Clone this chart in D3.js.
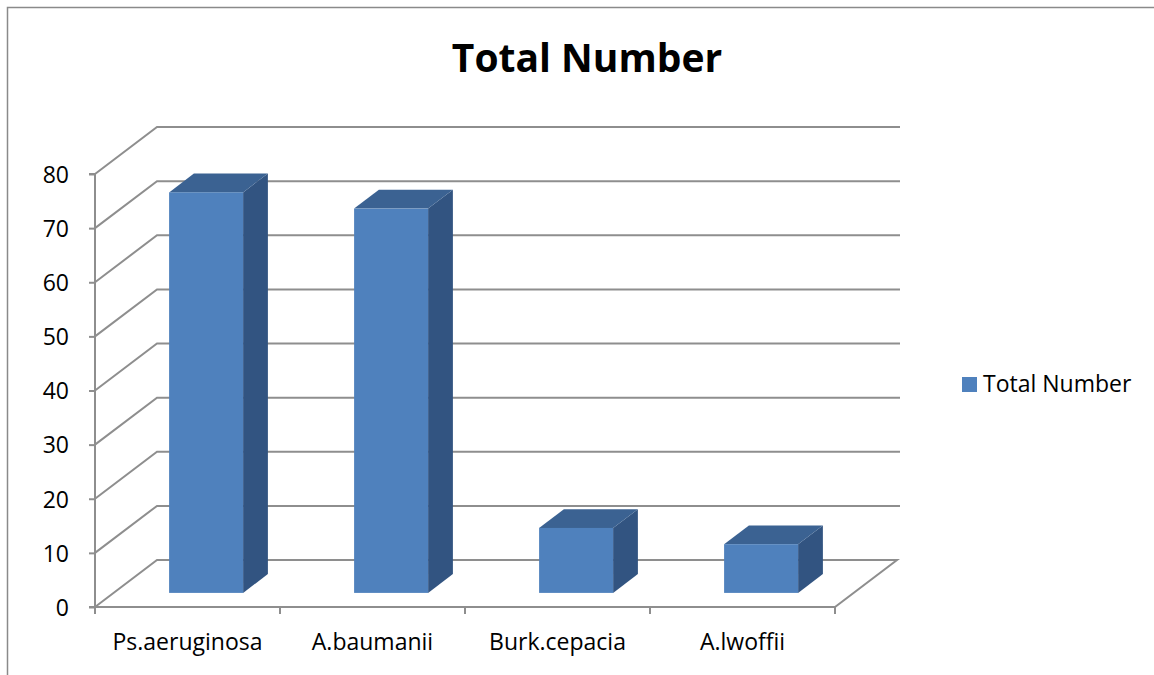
<!DOCTYPE html>
<html>
<head>
<meta charset="utf-8">
<script src="https://cdn.jsdelivr.net/npm/d3@7"></script>
<style>
  html, body { margin: 0; padding: 0; background: #fff; }
  svg { display: block; }
  text { font-family: "Open Sans", "Noto Sans", sans-serif; fill: #000; }
</style>
</head>
<body>
<svg id="chart" width="1154" height="675"></svg>
<script>
// ---- data ----
const categories = ["Ps.aeruginosa", "A.baumanii", "Burk.cepacia", "A.lwoffii"];
const values = [74, 71, 12, 9];
const seriesName = "Total Number";
const chartTitle = "Total Number";
const yTicks = [0, 10, 20, 30, 40, 50, 60, 70, 80];

// ---- layout ----
const svg = d3.select("#chart");
const W = 1154, H = 675;
const x0 = 95, x1 = 835;        // front floor edge
const yBottom = 607, yTop = 174; // front plane 0 and 80
const depthX = 62, depthY = -47; // 3D depth offset
const barFront = 0.30, barBack = 0.70; // bar depth fractions

const x = d3.scaleBand().domain(categories).range([x0, x1]).paddingInner(0.6).paddingOuter(0.3);
const y = d3.scaleLinear().domain([0, 80]).range([yBottom, yTop]);

const gridColor = "#8e8e8e";

// outer border (top and left only visible)
svg.append("path")
  .attr("d", `M7.5,${H} L7.5,7.5 L${W},7.5`)
  .attr("fill", "none").attr("stroke", "#8a8a8a").attr("stroke-width", 1.5);

// title
svg.append("text")
  .attr("x", 587).attr("y", 72)
  .attr("text-anchor", "middle")
  .style("font-size", "39px").style("font-weight", "bold")
  .text(chartTitle);

const g = svg.append("g");

// left wall + back wall gridlines
yTicks.forEach(t => {
  const yf = y(t);
  const pts = [[x0, yf], [x0 + depthX, yf + depthY], [x1 + depthX + 3, yf + depthY]];
  if (t === 0) {
    g.append("path")
      .attr("d", `M${x0},${yf} L${x0 + depthX},${yf + depthY} L${x1 + depthX},${yf + depthY} L${x1},${yf} Z`)
      .attr("fill", "none").attr("stroke", gridColor).attr("stroke-width", 2);
  } else {
    g.append("path")
      .attr("d", d3.line()(pts))
      .attr("fill", "none").attr("stroke", gridColor).attr("stroke-width", 2);
  }
});

// y axis
const yAxis = d3.axisLeft(y).tickValues(yTicks).tickSize(6).tickPadding(20);
const ya = g.append("g").attr("transform", `translate(${x0},0)`).call(yAxis);
ya.select(".domain").attr("stroke", gridColor).attr("stroke-width", 2).attr("d", `M-6,${yTop}H0V${yBottom}H-6`);
ya.selectAll(".tick line").attr("stroke", gridColor).attr("stroke-width", 2);
ya.selectAll(".tick text").style("font-size", "23px").style("font-family", "Open Sans, sans-serif").attr("fill", "#000").attr("dy", "0.36em");

// x axis ticks (category boundaries)
const boundaries = categories.map((c, i) => x0 + i * x.step()).concat([x1]);
g.selectAll(".xtick").data(boundaries).enter().append("line")
  .attr("x1", d => d).attr("x2", d => d)
  .attr("y1", yBottom).attr("y2", yBottom + 7)
  .attr("stroke", gridColor).attr("stroke-width", 2);

// x labels
g.selectAll(".xlabel").data(categories).enter().append("text")
  .attr("x", d => x(d) + x.bandwidth() / 2)
  .attr("y", 650)
  .attr("text-anchor", "middle")
  .style("font-size", "23px")
  .text(d => d);

// bars (3D)
const fx = barFront * depthX, fy = barFront * depthY;
const bx = barBack * depthX, by = barBack * depthY;
const bars = g.selectAll(".bar").data(categories.map((c, i) => ({ c, v: values[i] }))).enter().append("g");

bars.each(function(d) {
  const gg = d3.select(this);
  const L = x(d.c) + fx, R = x(d.c) + x.bandwidth() + fx;
  const B = y(0) + fy, T = y(d.v) + fy;
  const ddx = bx - fx, ddy = by - fy;
  gg.append("path")
    .attr("d", `M${R},${B} L${R + ddx},${B + ddy} L${R + ddx},${T + ddy} L${R},${T} Z`)
    .attr("fill", "#325481");
  gg.append("path")
    .attr("d", `M${L},${T} L${L + ddx},${T + ddy} L${R + ddx},${T + ddy} L${R},${T} Z`)
    .attr("fill", "#3b6292");
  gg.append("rect")
    .attr("x", L).attr("y", T).attr("width", R - L).attr("height", B - T)
    .attr("fill", "#4f81bd");
});

// legend
const lg = svg.append("g");
lg.append("rect").attr("x", 962).attr("y", 377).attr("width", 15).attr("height", 15).attr("fill", "#4f81bd");
lg.append("text").attr("x", 983).attr("y", 392).style("font-size", "23px").text(seriesName);
</script>
</body>
</html>
